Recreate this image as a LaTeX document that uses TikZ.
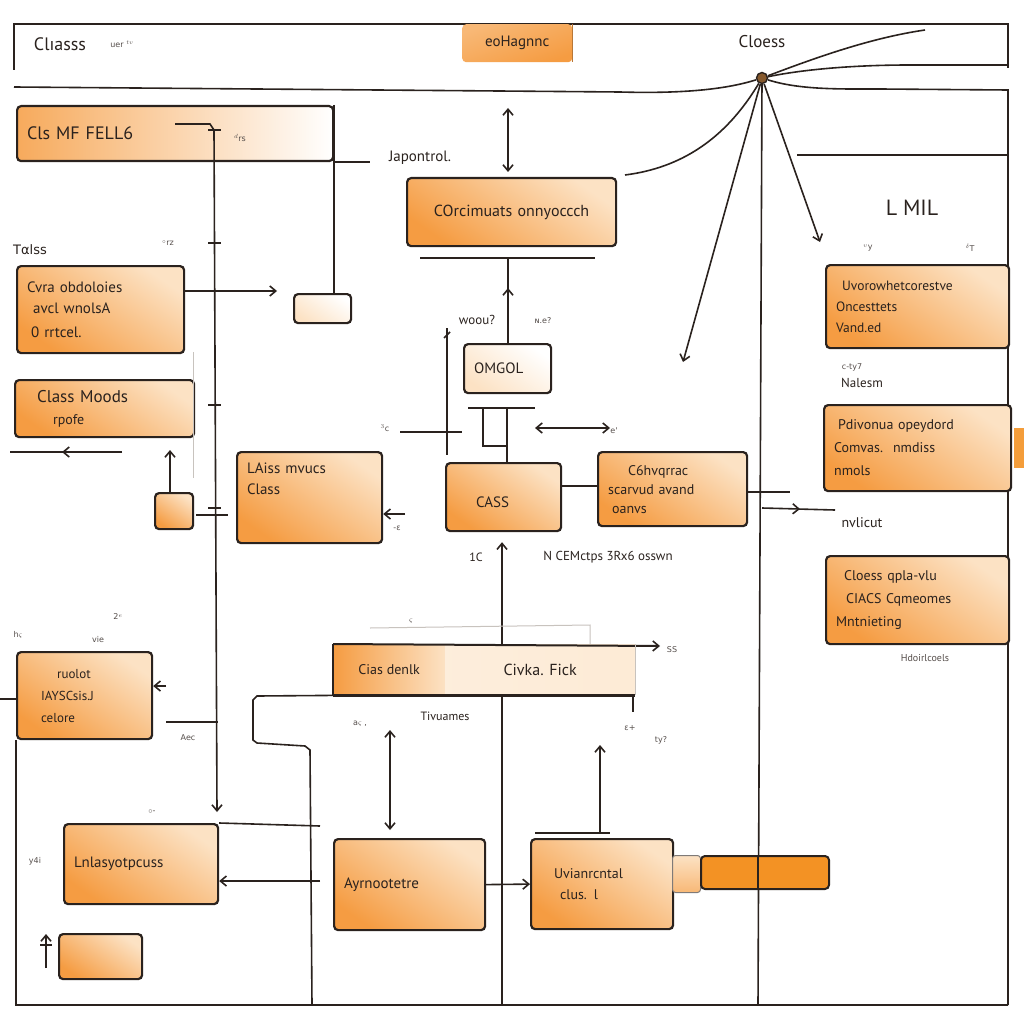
\documentclass[tikz,border=0pt]{standalone}
\usepackage{fontspec}
\setmainfont{PT Sans}
\newfontfamily\scrib{DejaVu Sans}
\usetikzlibrary{arrows.meta}
\definecolor{ink}{RGB}{42,34,30}
\definecolor{oD}{RGB}{245,156,66}
\definecolor{oL}{RGB}{252,226,196}
\definecolor{oBar}{RGB}{243,146,36}
\definecolor{faint}{RGB}{200,195,190}
\begin{document}
\begin{tikzpicture}[x=1pt,y=-1pt,
  ln/.style={draw=ink, line width=1.6pt},
  thin/.style={draw=faint, line width=1pt},
  arr/.style={ln, -{Straight Barb[length=6pt,width=10pt,line width=1.6pt]}},
  darr/.style={ln, {Straight Barb[length=6pt,width=10pt,line width=1.6pt]}-{Straight Barb[length=6pt,width=10pt,line width=1.6pt]}},
  basebox/.style={draw=ink, line width=2.2pt, rounded corners=4pt, anchor=north west,
    inner xsep=10pt, inner ysep=4pt, align=left, font=\fontsize{15}{21}\selectfont, text=ink},
  box/.style={basebox, top color=oL, bottom color=oD, shading angle=-35},
  lightbox/.style={basebox, top color=white, bottom color=oL, shading angle=-35},
  lbl/.style={font=\fontsize{15}{18}\selectfont, text=ink, inner sep=1pt},
  tiny/.style={font=\scrib\fontsize{8}{10}\selectfont, text=ink!80, inner sep=0pt}]
\fill[white] (0,0) rectangle (1024,1024);
\useasboundingbox (0,0) rectangle (1024,1024);

% ---------- frame ----------
\draw[ln] (14,70) -- (14,24) -- (1008,24) -- (1008,68);
\draw[ln] (16,740) -- (16,1005) -- (1008,1005);
\draw[ln] (797,155) -- (1008,155);

% ---------- hub and its spokes ----------
\node[circle, draw=ink, line width=1.4pt, fill=brown!70!black, minimum size=11pt, inner sep=0pt] (hub) at (762,78) {};
\coordinate (h1) at (14,87);
\coordinate (h2) at (925,30);
\coordinate (h3) at (1008,65);
\coordinate (h4) at (1008,90);
\coordinate (h5) at (625,175);
\coordinate (h6) at (683,362);
\coordinate (h7) at (820,242);
\coordinate (h8) at (758,1005);
\draw[ln] (h1) -- (620,92) .. controls (690,94) and (730,88) .. (hub);
\draw[ln] (hub) .. controls (815,58) and (870,38) .. (h2);
\draw[ln] (hub) .. controls (800,70) and (850,65) .. (910,65) -- (h3);
\draw[ln] (hub) .. controls (800,90) and (840,89) .. (880,89) -- (h4) -- (1008,1005);
\draw[ln] (hub) .. controls (725,140) and (680,168) .. (h5);
\draw[arr] (hub) -- (h6);
\draw[arr] (hub) -- (h7);
\draw[ln] (hub) -- (h8);

% ---------- top labels ----------
\node[lbl, font=\fontsize{18}{20}\selectfont] (tclass) at (60,44) {Clıasss};
\node[tiny] (tsc1) at (122,44) {uer $^{tv}$};
\node[lbl, font=\fontsize{17}{20}\selectfont] (tclose) at (762,42) {Cloess};
\node[anchor=north west, top color=oD!60!oL, bottom color=oD, shading angle=20, rounded corners=4pt,
  minimum width=110pt, minimum height=38pt, inner sep=0pt, font=\fontsize{15}{18}\selectfont, text=ink] (tag) at (462,24) {eoHagnnc};
\draw[line width=1pt, draw=oD!70!ink] (tag.north east) -- (tag.south east);

% ---------- upper left ----------
\node[basebox, left color=oD!80!oL, right color=white,
  minimum width=316pt, minimum height=55pt, text width=296pt, font=\fontsize{18}{20}\selectfont] (fell) at (16,105) {Cls MF FELL6};
\node[lightbox, minimum width=57pt, minimum height=29pt, text width=37pt] (small1) at (293,293) {};
\draw[ln] (fell.north east) -- (fell.north east |- small1.north);
\draw[ln] (fell.south east) -- ++(36,0);
\coordinate (f0) at (175,124);
\coordinate (f1) at (217,812);
\draw[arr] (f0) -- (210,124) -- (214,130) -- (f1);
\foreach \yy in {130,243,405,508} \draw[ln, line width=1.2pt] (208,\yy) -- (221,\yy);
\node[tiny] (tsc2) at (240,138) {$^{d}$rs};

\node[lbl, font=\scrib\fontsize{13}{15}\selectfont] (tales) at (30,250) {Tαlss};
\node[tiny] (tsc3) at (168,243) {$^{\circ}$rz};
\node[box, minimum width=167pt, minimum height=87pt, text width=147pt] (cvra) at (16,265)
  {Cvra obdoloies\\\hspace{6pt}avcl wnolsA\\[3pt]\hspace{4pt}0 rrtcel.};
\coordinate (c1) at (277,291);
\draw[arr] (cvra.east |- c1) -- (c1);

\node[box, minimum width=179pt, minimum height=57pt, text width=159pt, font=\fontsize{17}{22}\selectfont] (moods) at (14,379)
  {\hspace{12pt}Class Moods\\\hspace{28pt}{\fontsize{14}{16}\selectfont rpofe}};
\coordinate (m1) at (122,452);
\coordinate (m2) at (10,452);
\draw[arr] (m1) -- (62,452);
\draw[ln] (66,452) -- (m2);
\draw[thin] (193,352) -- (193,478);

\node[box, minimum width=38pt, minimum height=36pt, text width=18pt] (small2) at (154,492) {};
\coordinate (s2) at (170,450);
\draw[arr] (small2.north -| s2) -- (s2);
\draw[ln] (196,515) -- (228,515);

\node[box, minimum width=145pt, minimum height=91pt, text width=125pt] (lass) at (236,451)
  {LAiss mvucs\\Class\\[16pt]\mbox{}};
\coordinate (l1) at (405,514);
\draw[arr] (l1) -- (l1 -| lass.east);
\node[tiny] (tsc4) at (397,528) {-ε};

% ---------- centre column ----------
\node[lbl] (japo) at (420,158) {Japontrol.};
\coordinate (v1) at (508,108);
\coordinate (v2) at (508,172);
\draw[darr] (v1) -- (v2);
\node[box, minimum width=209pt, minimum height=68pt, text width=189pt, align=center, font=\fontsize{16}{20}\selectfont] (coord) at (406,177)
  {COrcimuats onnyoccch};
\draw[ln] (420,258) -- (595,258);
\node[lightbox, minimum width=87pt, minimum height=49pt, text width=67pt] (omgol) at (463,343) {OMGOL};
\draw[arr] (omgol.north -| v1) -- (508,288);
\draw[ln] (508,292) -- (508,258);
\node[lbl, font=\fontsize{13}{15}\selectfont] (wool) at (477,320) {woou?};
\node[tiny] (tsc5) at (543,321) {ɴ.e?};
\draw[ln] (447,328) -- (447,455);
\draw[ln] (444,338) -- (450,332);
\draw[ln] (468,408) -- (535,408);
\draw[ln] (483,408) -- (483,446) -- (507,446);
\coordinate (t1) at (400,432);
\draw[ln] (t1) -- (462,432);
\node[tiny] (tsc6) at (385,428) {$^{3}$c};
\draw[darr] (535,428) -- (610,428);
\node[tiny] (tsc7) at (614,431) {e'};

\node[box, minimum width=115pt, minimum height=68pt, text width=95pt] (cass) at (445,462)
  {\mbox{}\\\hspace{20pt}CASS};
\draw[ln] (507,408) -- (cass.north -| 507,0);
\node[box, minimum width=149pt, minimum height=74pt, text width=129pt, font=\fontsize{14}{19}\selectfont] (c6h) at (597,451)
  {\hspace{20pt}C6hvqrrac\\scarvud avand\\\hspace{4pt}oanvs};
\draw[ln] (cass.east |- 0,486) -- (c6h.west |- 0,486);
\draw[ln] (c6h.east |- 0,492) -- (790,492);
\coordinate (r1) at (762,508);
\coordinate (r2) at (835,510);
\draw[arr] (r1) -- (800,509);
\draw[ln] (797,509) -- (r2);

\coordinate (b1) at (502,1005);
\draw[arr, shorten >=10pt] (b1) -- (b1 |- cass.south);
\node[lbl, font=\fontsize{12}{14}\selectfont] (lab1c) at (476,557) {1C};
\node[lbl, font=\fontsize{13}{15}\selectfont] (labn) at (608,557) {N CEMctps 3Rx6 osswn};

% ---------- right column ----------
\node[lbl, font=\fontsize{22}{24}\selectfont] (lmil) at (912,208) {L MIL};
\node[tiny] (tsc8) at (868,248) {$^{v}$y};
\node[tiny] (tsc9) at (970,248) {$^{\delta}$T};
\node[box, minimum width=183pt, minimum height=83pt, text width=163pt, font=\fontsize{13.5}{21}\selectfont] (uvor) at (825,264)
  {\hspace{6pt}Uvorowhetcorestve\\Oncesttets\\Vand.ed};
\node[tiny] (tsc10) at (852,367) {c-ty7};
\node[lbl, font=\fontsize{13}{15}\selectfont] (nalesm) at (862,383) {Nalesm};
\node[box, minimum width=187pt, minimum height=86pt, text width=167pt, font=\fontsize{14}{23}\selectfont] (pdiv) at (823,404)
  {\hspace{4pt}Pdivonua opeydord\\Comvas.\hspace{10pt}nmdiss\\nmols};
\fill[oBar!90] (1014,428) rectangle (1024,468);
\node[lbl, font=\fontsize{14}{16}\selectfont] (nvli) at (862,523) {nvlicut};
\node[box, minimum width=183pt, minimum height=88pt, text width=163pt, font=\fontsize{14}{23}\selectfont] (cloess) at (825,555)
  {\hspace{8pt}Cloess qpla-vlu\\\hspace{10pt}CIACS Cqmeomes\\Mntnieting};
\node[tiny, font=\fontsize{10}{12}\selectfont] (hdoi) at (925,658) {Hdoirlcoels};

% ---------- lower left ----------
\node[tiny] (tsc11) at (18,635) {h$\varsigma$};
\node[tiny] (tsc12) at (118,617) {2$^{e}$};
\node[tiny] (tsc13) at (98,640) {vie};
\node[box, minimum width=135pt, minimum height=87pt, text width=115pt, font=\fontsize{13}{22}\selectfont] (ruolot) at (16,651)
  {\hspace{30pt}ruolot\\\hspace{14pt}IAYSCsis.J\\\hspace{14pt}celore};
\coordinate (u1) at (166,686);
\draw[arr] (u1) -- (u1 -| ruolot.east);
\draw[ln] (0,699) -- (ruolot.west |- 0,699);
\draw[ln] (166,722) -- (218,722);
\node[tiny] (tsc14) at (188,738) {Aec};

\node[tiny] (tsc15) at (152,812) {$\circ$-};
\node[tiny] (tsc16) at (35,861) {y4i};
\node[box, minimum width=154pt, minimum height=80pt, text width=134pt] (lnlas) at (63,823) {Lnlasyotpcuss};
\draw[ln] (lnlas.north east) -- (320,826);
\coordinate (n1) at (320,881);
\draw[arr] (n1) -- (n1 -| lnlas.east);
\node[box, minimum width=83pt, minimum height=45pt, text width=63pt] (small3) at (58,933) {};
\coordinate (k1) at (46,968);
\draw[arr] (k1) -- (46,934);
\draw[ln, line width=1.2pt] (40,945) -- (52,945);

% ---------- lower centre ----------
\draw[thin] (370,628) -- (590,625) -- (590,645);
\node[tiny] (tsc17) at (411,621) {$\varsigma$};
\node[anchor=north west, left color=oD, right color=oL, minimum width=112pt, minimum height=51pt, inner xsep=10pt,
  font=\fontsize{14}{16}\selectfont, text=ink] (ciasden) at (333,644) {Cias denlk};
\node[anchor=north west, left color=oL!60!white, right color=oL!70!white, minimum width=190pt, minimum height=51pt,
  font=\fontsize{16}{18}\selectfont, text=ink] (civka) at (445,644) {Civka. Fick};
\draw[line width=2.2pt, draw=ink] (ciasden.north west) -- (ciasden.south west);
\draw[line width=2.2pt, draw=ink] (ciasden.south west) -- (civka.south east);
\coordinate (q1) at (660,646);
\draw[arr, line width=2pt] (ciasden.north west) -- (q1);
\draw[thin] (civka.north east) -- (civka.south east);
\node[tiny] (tsc18) at (672,650) {SS};
\draw[ln] (ciasden.south west) -- (257,696) -- (253,700) -- (253,740) -- (257,743) -- (305,746) -- (310,750) -- (312,1005);
\node[lbl, font=\fontsize{12}{14}\selectfont] (tivu) at (445,716) {Tivuames};
\node[tiny] (tsc19) at (360,724) {a$\varsigma$ ,};
\draw[ln, line width=1.2pt] (633,697) -- (633,712);
\node[tiny] (tsc20) at (630,728) {ε+};
\node[tiny] (tsc21) at (661,740) {ty?};
\coordinate (d1) at (390,730);
\coordinate (d2) at (390,830);
\draw[darr] (d1) -- (d2);

\node[box, minimum width=151pt, minimum height=91pt, text width=131pt] (ayrn) at (333,838) {Ayrnootetre};
\node[box, minimum width=142pt, minimum height=90pt, text width=112pt, font=\fontsize{14}{21}\selectfont] (uvian) at (530,838)
  {\hspace{8pt}Uvianrcntal\\\hspace{14pt}clus. l};
\coordinate (w1) at (600,745);
\draw[ln] (535,833) -- (610,833);
\draw[arr] (w1 |- 0,833) -- (w1);
\draw[arr] (ayrn.east) -- (uvian.west);
\node[draw=ink!60, line width=1pt, top color=oL, bottom color=oD!60!oL, rounded corners=3pt, anchor=north west,
  minimum width=28pt, minimum height=37pt, inner sep=0pt] (stub) at (672,855) {};
\node[draw=ink, line width=2pt, fill=oBar, rounded corners=4pt, anchor=north west,
  minimum width=128pt, minimum height=33pt, inner sep=0pt] (bar) at (700,855) {};
\draw[ln, line width=1.2pt] (758,855) -- (758,888);
\end{tikzpicture}
\end{document}
